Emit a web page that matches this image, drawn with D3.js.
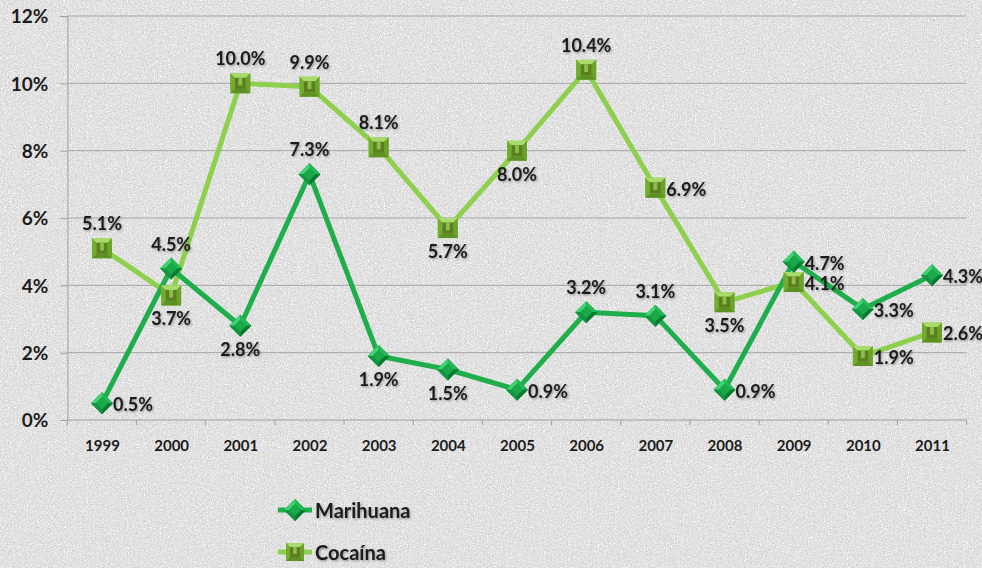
<!DOCTYPE html>
<html>
<head>
<meta charset="utf-8">
<script src="https://cdn.jsdelivr.net/npm/d3@7"></script>
<style>
  html, body { margin: 0; padding: 0; background: #e6e6e6; }
  svg { display: block; }
  text { font-family: Lato, "Open Sans", sans-serif; font-weight: bold; fill: #1c1c1c; }
</style>
</head>
<body>
<svg id="chart" width="982" height="568"></svg>
<script>
// Years on the horizontal axis
const years = ["1999","2000","2001","2002","2003","2004","2005","2006","2007","2008","2009","2010","2011"];
// Percent values per series
const marihuana = [0.5, 4.5, 2.8, 7.3, 1.9, 1.5, 0.9, 3.2, 3.1, 0.9, 4.7, 3.3, 4.3];
const cocaina   = [5.1, 3.7, 10.0, 9.9, 8.1, 5.7, 8.0, 10.4, 6.9, 3.5, 4.1, 1.9, 2.6];
// Where each data label sits: a = above, b = below, r = right
const marihuanaLabelPos = ["r","a","b","a","b","b","r","a","a","r","r","r","r"];
const cocainaLabelPos   = ["a","b","a","a","a","b","b","a","r","b","r","r","r"];
// Axis ticks
const yTicks = [0, 2, 4, 6, 8, 10, 12];
const seriesNames = ["Marihuana", "Cocaína"];

const svg = d3.select("#chart");
const W = 982, H = 568;
const plot = { left: 67.4, right: 966.6, top: 16, bottom: 420 };

const defs = svg.append("defs");

// Granite-like speckled backdrop: dark grains plus light grains
const noise = defs.append("filter").attr("id", "speckle")
  .attr("x", 0).attr("y", 0).attr("width", "100%").attr("height", "100%");
noise.append("feTurbulence").attr("type", "fractalNoise")
  .attr("baseFrequency", 0.7).attr("numOctaves", 2).attr("seed", 7).attr("result", "n");
noise.append("feColorMatrix").attr("in", "n").attr("type", "matrix")
  .attr("values", "0 0 0 0 0.6  0 0 0 0 0.6  0 0 0 0 0.6  3.6 0 0 0 -1.75")
  .attr("result", "dark");
noise.append("feColorMatrix").attr("in", "n").attr("type", "matrix")
  .attr("values", "0 0 0 0 1  0 0 0 0 1  0 0 0 0 1  0 -3.6 0 0 1.75")
  .attr("result", "light");
noise.append("feMerge").selectAll("feMergeNode")
  .data(["SourceGraphic", "light", "dark"]).join("feMergeNode").attr("in", d => d);

svg.append("rect").attr("width", W).attr("height", H).attr("fill", "#e2e2e2")
  .attr("filter", "url(#speckle)");

// Soft shadow for the label text
const sh = defs.append("filter").attr("id", "txtShadow")
  .attr("x", "-20%").attr("y", "-30%").attr("width", "140%").attr("height", "160%");
sh.append("feDropShadow").attr("dx", 1).attr("dy", 1.2).attr("stdDeviation", 0.9)
  .attr("flood-color", "#000").attr("flood-opacity", 0.35);

const x = d3.scalePoint().domain(years).range([plot.left, plot.right]).padding(0.5);
const y = d3.scaleLinear().domain([0, 12]).range([plot.bottom, plot.top]);

// Horizontal gridlines
svg.append("g").selectAll("line").data(yTicks.filter(d => d > 0)).join("line")
  .attr("x1", plot.left).attr("x2", plot.right)
  .attr("y1", d => y(d)).attr("y2", d => y(d))
  .attr("stroke", "#a5a5a5").attr("stroke-width", 1);

// Y axis
const yAxis = svg.append("g").attr("transform", `translate(${plot.left},0)`)
  .call(d3.axisLeft(y).tickValues(yTicks).tickFormat(d => d + "%").tickSize(7).tickPadding(12));
yAxis.select(".domain").attr("stroke", "#a0a0a0");
yAxis.selectAll(".tick line").attr("stroke", "#a0a0a0");
yAxis.selectAll("text").style("font-size", "19px").attr("fill", "#1c1c1c").attr("dy", "0.36em");

// X axis with ticks between categories
const xAxis = svg.append("g").attr("transform", `translate(0,${plot.bottom})`)
  .call(d3.axisBottom(x).tickSize(0).tickPadding(20));
xAxis.select(".domain").attr("stroke", "#a0a0a0").attr("d", `M${plot.left},0H${plot.right}`);
xAxis.selectAll("text").style("font-size", "15px").attr("fill", "#1c1c1c");
const step = x.step();
svg.append("g").selectAll("line").data(d3.range(years.length + 1)).join("line")
  .attr("x1", i => plot.left + i * step).attr("x2", i => plot.left + i * step)
  .attr("y1", plot.bottom).attr("y2", plot.bottom + 5)
  .attr("stroke", "#a0a0a0");

// Marker shapes
function diamond(g, s) {
  g.append("path").attr("d", `M0,${-s}L${s},0L0,${s}L${-s},0Z`).attr("fill", "#0e8a38");
  const k = s * 0.55;
  g.append("path").attr("d", `M0,${-s}L${s},0L${k},0L0,${-k}Z`).attr("fill", "#22b956");
  g.append("path").attr("d", `M0,${-s}L${-s},0L${-k},0L0,${-k}Z`).attr("fill", "#3ed572");
  g.append("path").attr("d", `M0,${s}L${s},0L${k},0L0,${k}Z`).attr("fill", "#0a7a30");
  g.append("path").attr("d", `M0,${s}L${-s},0L${-k},0L0,${k}Z`).attr("fill", "#12963f");
  g.append("path").attr("d", `M0,${-k}L${k},0L0,${k}L${-k},0Z`).attr("fill", "#1aa84b");
}
function square(g, s) {
  g.append("rect").attr("x", -s).attr("y", -s).attr("width", 2 * s).attr("height", 2 * s).attr("fill", "#86c33c");
  const k = s * 0.55;
  g.append("path").attr("d", `M${-s},${-s}L${s},${-s}L${k},${-k}L${-k},${-k}Z`).attr("fill", "#a9db6c");
  g.append("path").attr("d", `M${-s},${-s}L${-s},${s}L${-k},${k}L${-k},${-k}Z`).attr("fill", "#73ad2e");
  g.append("path").attr("d", `M${s},${-s}L${s},${s}L${k},${k}L${k},${-k}Z`).attr("fill", "#6ba22a");
  g.append("path").attr("d", `M${-s},${s}L${s},${s}L${k},${k}L${-k},${k}Z`).attr("fill", "#5e9124");
  g.append("rect").attr("x", -k).attr("y", -k).attr("width", 2 * k).attr("height", 2 * k).attr("fill", "#5b7e22");
  g.append("rect").attr("x", -k * 0.35).attr("y", -k).attr("width", k * 0.7).attr("height", k * 1.4).attr("fill", "#8dbf48");
}

const series = [
  { name: seriesNames[1], values: cocaina, pos: cocainaLabelPos, color: "#8ed04e", marker: square, size: 10 },
  { name: seriesNames[0], values: marihuana, pos: marihuanaLabelPos, color: "#1fae4c", marker: diamond, size: 11 }
];

const line = d3.line().x((d, i) => x(years[i])).y(d => y(d));

series.forEach(s => {
  svg.append("path").datum(s.values).attr("d", line)
    .attr("fill", "none").attr("stroke", s.color).attr("stroke-width", 5)
    .attr("stroke-linejoin", "round");
});
series.forEach(s => {
  s.values.forEach((v, i) => {
    const g = svg.append("g").attr("transform", `translate(${x(years[i])},${y(v)})`);
    s.marker(g, s.size);
  });
});

// Data labels
series.forEach(s => {
  svg.append("g").selectAll("text").data(s.values).join("text")
    .attr("filter", "url(#txtShadow)")
    .style("font-size", "18px")
    .attr("dominant-baseline", "central")
    .attr("text-anchor", (d, i) => s.pos[i] === "r" ? "start" : "middle")
    .attr("x", (d, i) => x(years[i]) + (s.pos[i] === "r" ? 11 : 0))
    .attr("y", (d, i) => y(d) + (s.pos[i] === "a" ? -25 : s.pos[i] === "b" ? 23 : 1))
    .text(d => d.toFixed(1) + "%");
});

// Legend
const legend = svg.append("g");
const legendItems = [
  { name: seriesNames[0], color: "#1fae4c", marker: diamond, size: 11, y: 510 },
  { name: seriesNames[1], color: "#8ed04e", marker: square, size: 9, y: 552 }
];
legendItems.forEach(it => {
  legend.append("line").attr("x1", 278).attr("x2", 312).attr("y1", it.y).attr("y2", it.y)
    .attr("stroke", it.color).attr("stroke-width", 5);
  const g = legend.append("g").attr("transform", `translate(295,${it.y})`);
  it.marker(g, it.size);
  legend.append("text").attr("x", 315).attr("y", it.y).attr("dominant-baseline", "central")
    .attr("filter", "url(#txtShadow)")
    .style("font-size", "20px").attr("fill", "#1c1c1c").text(it.name);
});
</script>
</body>
</html>
